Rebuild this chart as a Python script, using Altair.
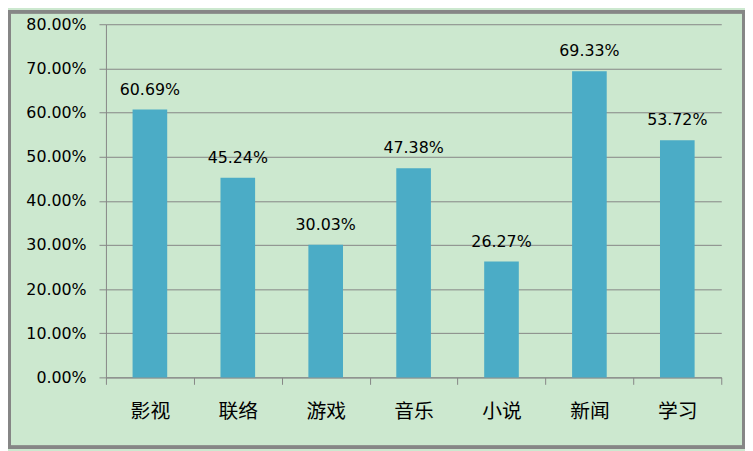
import altair as alt
import pandas as pd

categories = ["影视", "联络", "游戏", "音乐", "小说", "新闻", "学习"]
values = [0.6069, 0.4524, 0.3003, 0.4738, 0.2627, 0.6933, 0.5372]
y_ticks = [0.0, 0.1, 0.2, 0.3, 0.4, 0.5, 0.6, 0.7, 0.8]

df = pd.DataFrame({"cat": categories, "val": values})

BG = "#CCE8CF"
BAR = "#4BACC6"
GRID = "#868686"
W, H = 622, 357

x_enc = alt.X("cat:N", sort=categories, title=None,
              scale=alt.Scale(paddingInner=0, paddingOuter=0),
              axis=alt.Axis(labelAngle=0, tickBand="extent", domainColor=GRID,
                            tickColor=GRID, tickSize=7, labelPadding=18,
                            labelFont="Noto Sans CJK SC", labelFontSize=20,
                            labelColor="black", grid=False))
y_enc = alt.Y("val:Q", title=None,
              scale=alt.Scale(domain=[0, 0.8], nice=False),
              axis=alt.Axis(values=y_ticks, format=".2%", grid=True, gridColor=GRID,
                            domainColor=GRID, tickColor=GRID, tickSize=7,
                            labelPadding=13, labelFont="DejaVu Sans", labelFontSize=16,
                            labelColor="black"))

bars = alt.Chart(df).mark_bar(color=BAR, width=35).encode(x=x_enc, y=y_enc)
text = alt.Chart(df).mark_text(font="DejaVu Sans", fontSize=16, color="black",
                               baseline="alphabetic", dy=-15).encode(
    x=alt.X("cat:N", sort=categories), y="val:Q", text=alt.Text("val:Q", format=".2%"))

frame = alt.Chart(df).mark_rect(fill=None, stroke=GRID, strokeWidth=3, clip=False).encode(
    x=alt.value(-97.5), x2=alt.value(644.5), y=alt.value(-12.5), y2=alt.value(427.5))

chart = alt.layer(bars, text, frame).properties(
    width=W, height=H,
    autosize=alt.AutoSizeParams(type="none"),
    padding={"left": 99, "top": 14, "right": 24, "bottom": 72},
    background=BG,
).configure_view(stroke=None)

chart.save("out.html", embed_options={"renderer": "svg", "actions": False})
